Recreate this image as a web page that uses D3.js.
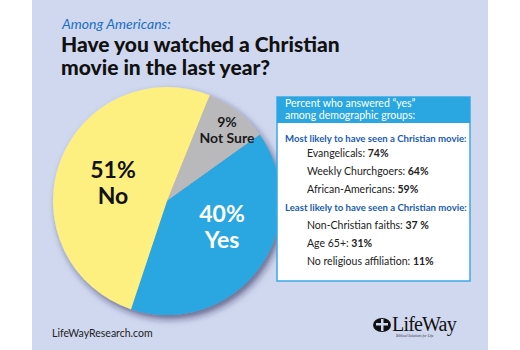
<!DOCTYPE html>
<html><head><meta charset="utf-8">
<script src="https://cdn.jsdelivr.net/npm/d3@7"></script>
<style>
html,body{margin:0;padding:0;background:#fff;}
svg{display:block;font-family:Lato,"DejaVu Sans",sans-serif;}
</style></head>
<body>
<svg id="chart" width="520" height="350"></svg>
<script>
const categories = ["Not Sure", "Yes", "No"];
const values = [9, 40, 51];
const sliceColors = ["#b9b9bb", "#2aa7e1", "#fdf081"];
const labelColors = ["#1a1a1a", "#ffffff", "#111111"];

const mostLabels = ["Evangelicals:", "Weekly Churchgoers:", "African-Americans:"];
const mostValues = ["74%", "64%", "59%"];
const leastLabels = ["Non-Christian faiths:", "Age 65+:", "No religious affiliation:"];
const leastValues = ["37 %", "31%", "11%"];

const svg = d3.select("#chart");
svg.append("rect").attr("x",0).attr("y",0).attr("width",520).attr("height",350).attr("fill","#ffffff");
svg.append("rect").attr("x",32).attr("y",0).attr("width",456).attr("height",350).attr("fill","#d0d8ef");

const defs = svg.append("defs");
const f = defs.append("filter").attr("id","sh").attr("x","-20%").attr("y","-20%").attr("width","150%").attr("height","150%");
f.append("feDropShadow").attr("dx",3).attr("dy",4).attr("stdDeviation",3.5).attr("flood-color","#1c2450").attr("flood-opacity",0.6);

// titles
svg.append("text").attr("x",62).attr("y",29).attr("font-size",14).attr("font-style","italic")
  .attr("fill","#1b6fc4").text("Among Americans:");
svg.append("text").attr("x",61).attr("y",52).attr("font-size",21).attr("font-weight","900")
  .attr("fill","#111").text("Have you watched a Christian");
svg.append("text").attr("x",61).attr("y",75).attr("font-size",21).attr("font-weight","900")
  .attr("fill","#111").text("movie in the last year?");

// pie
const cx = 167, cy = 201, R = 114;
const pie = d3.pie().sort(null).value(d=>d).startAngle(22*Math.PI/180).endAngle(22*Math.PI/180 + 2*Math.PI);
const arcs = pie(values);
const arc = d3.arc().innerRadius(0).outerRadius(R);
const g = svg.append("g").attr("transform",`translate(${cx},${cy})`);
g.append("g").attr("filter","url(#sh)").selectAll("path").data(arcs).join("path")
  .attr("d",arc).attr("fill",(d,i)=>sliceColors[i]);

const labelPos = [[60,-74,14,16],[55,21,23,26],[-54,-23,23,26]];
arcs.forEach((a,i)=>{
  const [lx,ly,fs,lh] = labelPos[i];
  g.append("text").attr("text-anchor","middle").attr("font-weight","bold").attr("fill",labelColors[i])
    .attr("x",lx).attr("y",ly).attr("font-size",fs).text(values[i]+"%");
  g.append("text").attr("text-anchor","middle").attr("font-weight","bold").attr("fill",labelColors[i])
    .attr("x",lx).attr("y",ly+lh).attr("font-size",fs).text(categories[i]);
});

// box
const bx=277, by=97, bw=193, bh=184;
svg.append("rect").attr("x",bx).attr("y",by).attr("width",bw).attr("height",bh).attr("fill","#fff")
  .attr("stroke","#3aa9e2").attr("stroke-width",1.5);
svg.append("rect").attr("x",bx).attr("y",by).attr("width",bw).attr("height",26).attr("fill","#2aa7e1");
svg.append("text").attr("x",285).attr("y",107).attr("font-size",10.5).attr("fill","#fff").text("Percent who answered \u201cyes\u201d");
svg.append("text").attr("x",285).attr("y",119).attr("font-size",10.5).attr("fill","#fff").text("among demographic groups:");

svg.append("text").attr("x",285).attr("y",142).attr("font-size",9.6).attr("font-weight","bold").attr("fill","#1a5cb0")
  .text("Most likely to have seen a Christian movie:");
const y0 = d3.scalePoint().domain(d3.range(3)).range([157,193]);
mostLabels.forEach((l,i)=>{
  const t = svg.append("text").attr("x",307).attr("y",y0(i)).attr("font-size",10.5).attr("fill","#222");
  t.append("tspan").text(l+" ");
  t.append("tspan").attr("font-weight","bold").text(mostValues[i]);
});
svg.append("text").attr("x",285).attr("y",211).attr("font-size",9.6).attr("font-weight","bold").attr("fill","#1a5cb0")
  .text("Least likely to have seen a Christian movie:");
const y1 = d3.scalePoint().domain(d3.range(3)).range([229,265]);
leastLabels.forEach((l,i)=>{
  const t = svg.append("text").attr("x",307).attr("y",y1(i)).attr("font-size",10.5).attr("fill","#222");
  t.append("tspan").text(l+" ");
  t.append("tspan").attr("font-weight","bold").text(leastValues[i]);
});

// footer
svg.append("text").attr("x",52).attr("y",337).attr("font-size",10.5).attr("fill","#222").text("LifeWayResearch.com");
const lg = svg.append("g");
lg.append("ellipse").attr("cx",382).attr("cy",325).attr("rx",9).attr("ry",7).attr("fill","#111");
lg.append("rect").attr("x",381).attr("y",319).attr("width",2.5).attr("height",12).attr("fill","#d0d8ef");
lg.append("rect").attr("x",376).attr("y",323).attr("width",12).attr("height",2.5).attr("fill","#d0d8ef");
lg.append("text").attr("x",392).attr("y",331).attr("font-size",20).attr("font-family","'Liberation Serif',serif")
  .attr("fill","#111").attr("letter-spacing",-0.8).text("LifeWay");
lg.append("text").attr("x",396).attr("y",336.5).attr("font-size",3.6).attr("font-family","'Liberation Serif',serif")
  .attr("font-style","italic").attr("fill","#333").text("Biblical Solutions for Life");
</script>
</body></html>
